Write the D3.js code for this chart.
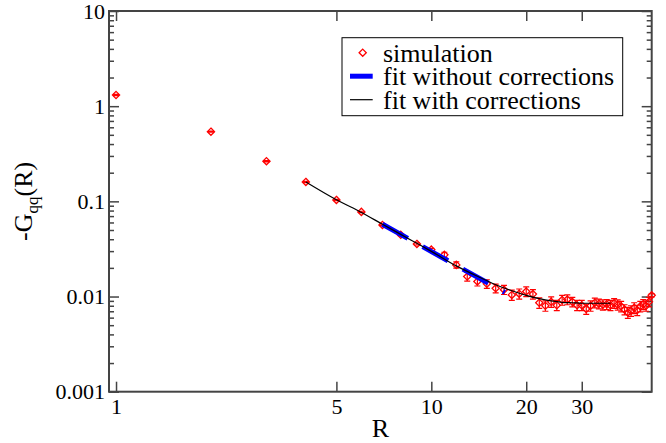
<!DOCTYPE html>
<script src="https://cdn.jsdelivr.net/npm/d3@7/dist/d3.min.js"></script>
<style>
    body { margin: 0; background: #fff; }
    svg text { font-family: "Times New Roman", Times, "Liberation Serif", Tinos, "Noto Serif", "DejaVu Serif", serif; }
</style>
<svg id="chart" width="666" height="443"></svg>
<script>
    // simulation points: R, -Gqq(R), error
    var simR = [1, 2, 3, 4, 5, 6, 7, 8, 9, 10,
        11, 12, 13, 14, 15, 16, 17, 18, 19, 20,
        21, 22, 23, 24, 25, 26, 27, 28, 29, 30,
        31, 32, 33, 34, 35, 36, 37, 38, 39, 40,
        41, 42, 43, 44, 45, 46, 47, 48, 49, 50];
    var simG = [1.31, 0.54, 0.264, 0.160, 0.1035, 0.0775, 0.0565, 0.0445, 0.0357, 0.0311,
        0.0274, 0.0215, 0.0162, 0.0144, 0.0136, 0.0122, 0.0118, 0.0104, 0.0107, 0.0113,
        0.0106, 0.0086, 0.0080, 0.0088, 0.0081, 0.0092, 0.0093, 0.0088, 0.0081, 0.0081,
        0.0074, 0.0080, 0.0086, 0.0084, 0.0082, 0.0083, 0.0081, 0.0085, 0.0082, 0.0079,
        0.0073, 0.0068, 0.0071, 0.0076, 0.0072, 0.0079, 0.0083, 0.0080, 0.0088, 0.0103];
    var simErr = [0.02, 0.008, 0.004, 0.0025, 0.0016, 0.0012, 0.0010, 0.0009, 0.0009, 0.0010,
        0.0018, 0.0016, 0.0017, 0.0015, 0.0014, 0.0013, 0.0013, 0.0013, 0.0013, 0.0013,
        0.0012, 0.0011, 0.0010, 0.0011, 0.0010, 0.0011, 0.0011, 0.0010, 0.0010, 0.0010,
        0.0009, 0.0010, 0.0010, 0.0010, 0.0010, 0.0010, 0.0010, 0.0010, 0.0010, 0.0010,
        0.0009, 0.0009, 0.0009, 0.0010, 0.0009, 0.0010, 0.0010, 0.0010, 0.0010, 0.0004];

    // fit without corrections (power law)
    var fitNoR = [7, 17.1];
    var fitNoG = [0.0574, 0.01104];

    // fit with corrections
    var fitR = [4, 5, 6, 7, 8, 9, 10, 12, 14, 16, 18, 20, 22, 24, 26, 28, 30, 33, 37];
    var fitG = [0.160, 0.104, 0.0765, 0.0575, 0.0450, 0.0362, 0.0298, 0.0210, 0.0163, 0.0133,
        0.0115, 0.0103, 0.0095, 0.0090, 0.0087, 0.0086, 0.0085, 0.0085, 0.0085];

    var xTicks = [1, 5, 10, 20, 30];
    var yTicks = [0.001, 0.01, 0.1, 1, 10];
    var yMinor = [];
    yTicks.slice(0, 4).forEach(function(d) {
        for (var k = 2; k <= 9; k++) yMinor.push(d * k);
    });
    var legendLabels = ["simulation", "fit without corrections", "fit with corrections"];

    var serif = "'Times New Roman', Times, 'Liberation Serif', Tinos, 'Noto Serif', 'DejaVu Serif', serif";

    var svg = d3.select("#chart"),
        margin = { top: 11, right: 14.3, bottom: 51.3, left: 109 },
        width = +svg.attr("width") - margin.left - margin.right,
        height = +svg.attr("height") - margin.top - margin.bottom,
        g = svg.append("g").attr("transform", "translate(" + margin.left + "," + margin.top + ")");

    var x = d3.scaleLog().domain([0.95, 50]).range([0, width]);
    var y = d3.scaleLog().domain([0.001, 10]).range([height, 0]);

    var axisColor = "#444";
    function styleAxis(sel) {
        sel.attr("font-family", null);
        sel.select(".domain").remove();
        sel.selectAll(".tick line").attr("stroke", axisColor).attr("stroke-width", 1.5);
        sel.selectAll("text").attr("fill", "#000").style("font-size", "22px")
            .style("font-family", serif);
    }

    g.append("g").attr("transform", "translate(0," + height + ")")
        .call(d3.axisBottom(x).tickValues(xTicks).tickSize(-10).tickPadding(7).tickFormat(d3.format("d")))
        .call(styleAxis);
    g.append("g")
        .call(d3.axisTop(x).tickValues(xTicks).tickSize(-10).tickFormat(""))
        .call(styleAxis);
    g.append("g")
        .call(d3.axisLeft(y).tickValues(yTicks).tickSize(-10).tickPadding(4).tickFormat(function(d) { return String(d); }))
        .call(styleAxis);
    g.append("g")
        .call(d3.axisLeft(y).tickValues(yMinor).tickSize(-5).tickFormat(""))
        .call(styleAxis);
    g.append("g").attr("transform", "translate(" + width + ",0)")
        .call(d3.axisRight(y).tickValues(yTicks).tickSize(-10).tickFormat(""))
        .call(styleAxis);
    g.append("g").attr("transform", "translate(" + width + ",0)")
        .call(d3.axisRight(y).tickValues(yMinor).tickSize(-5).tickFormat(""))
        .call(styleAxis);

    g.append("rect")
        .attr("width", width).attr("height", height)
        .attr("fill", "none").attr("stroke", axisColor).attr("stroke-width", 2);

    // simulation: error bars + open diamonds
    var sim = simR.map(function(r, i) { return { r: r, g: simG[i], e: simErr[i] }; });
    var diamond = "M0,-3.6L3.6,0L0,3.6L-3.6,0Z";
    var pts = g.append("g").attr("stroke", "#ff0000").attr("fill", "none");
    pts.selectAll("path.err")
        .data(sim)
        .enter().append("path")
        .attr("class", "err")
        .attr("stroke-width", 1.2)
        .attr("d", function(d) {
            var cx = x(d.r), y0 = y(d.g - d.e), y1 = y(d.g + d.e);
            return "M" + cx + "," + y0 + "V" + y1 +
                "M" + (cx - 3) + "," + y0 + "H" + (cx + 3) +
                "M" + (cx - 3) + "," + y1 + "H" + (cx + 3);
        });
    pts.selectAll("path.pt")
        .data(sim)
        .enter().append("path")
        .attr("class", "pt")
        .attr("stroke-width", 1.3)
        .attr("transform", function(d) { return "translate(" + x(d.r) + "," + y(d.g) + ")"; })
        .attr("d", diamond);

    var line = d3.line()
        .x(function(d) { return x(d[0]); })
        .y(function(d) { return y(d[1]); });

    g.append("path")
        .datum(fitNoR.map(function(r, i) { return [r, fitNoG[i]]; }))
        .attr("fill", "none")
        .attr("stroke", "#0000ff")
        .attr("stroke-width", 5)
        .attr("stroke-dasharray", "29,17")
        .attr("d", line);

    g.append("path")
        .datum(fitR.map(function(r, i) { return [r, fitG[i]]; }))
        .attr("fill", "none")
        .attr("stroke", "#000")
        .attr("stroke-width", 1.2)
        .attr("d", d3.line().curve(d3.curveMonotoneX)
            .x(function(d) { return x(d[0]); })
            .y(function(d) { return y(d[1]); }));

    // axis titles
    svg.append("text")
        .attr("x", margin.left + width / 2).attr("y", 437)
        .attr("text-anchor", "middle")
        .style("font-size", "26px")
        .text("R");

    var yt = svg.append("text")
        .attr("transform", "translate(32," + (margin.top + height / 2) + ") rotate(-90)")
        .attr("text-anchor", "middle")
        .style("font-size", "26px");
    yt.append("tspan").text("-G");
    yt.append("tspan").attr("dy", 6).style("font-size", "17px").text("qq");
    yt.append("tspan").attr("dy", -6).text("(R)");

    // legend
    var lg = svg.append("g").attr("transform", "translate(342,37.7)");
    lg.append("rect")
        .attr("width", 280.7).attr("height", 78)
        .attr("fill", "#fff").attr("stroke", "#000").attr("stroke-width", 1);
    var items = lg.selectAll("g.item")
        .data(legendLabels)
        .enter().append("g")
        .attr("class", "item")
        .attr("transform", function(d, i) { return "translate(0," + (15 + i * 23.5) + ")"; });
    items.append("text")
        .attr("x", 41).attr("y", 9)
        .style("font-size", "26px")
        .text(function(d) { return d; });
    items.filter(function(d, i) { return i === 0; }).append("path")
        .attr("transform", "translate(20.7,0)")
        .attr("d", diamond)
        .attr("fill", "none").attr("stroke", "#ff0000").attr("stroke-width", 1.3);
    items.filter(function(d, i) { return i === 1; }).append("line")
        .attr("x1", 8).attr("x2", 30.7).attr("y1", 0).attr("y2", 0)
        .attr("stroke", "#0000ff").attr("stroke-width", 5);
    items.filter(function(d, i) { return i === 2; }).append("line")
        .attr("x1", 8).attr("x2", 30.7).attr("y1", 0).attr("y2", 0)
        .attr("stroke", "#000").attr("stroke-width", 1.2);
</script>
